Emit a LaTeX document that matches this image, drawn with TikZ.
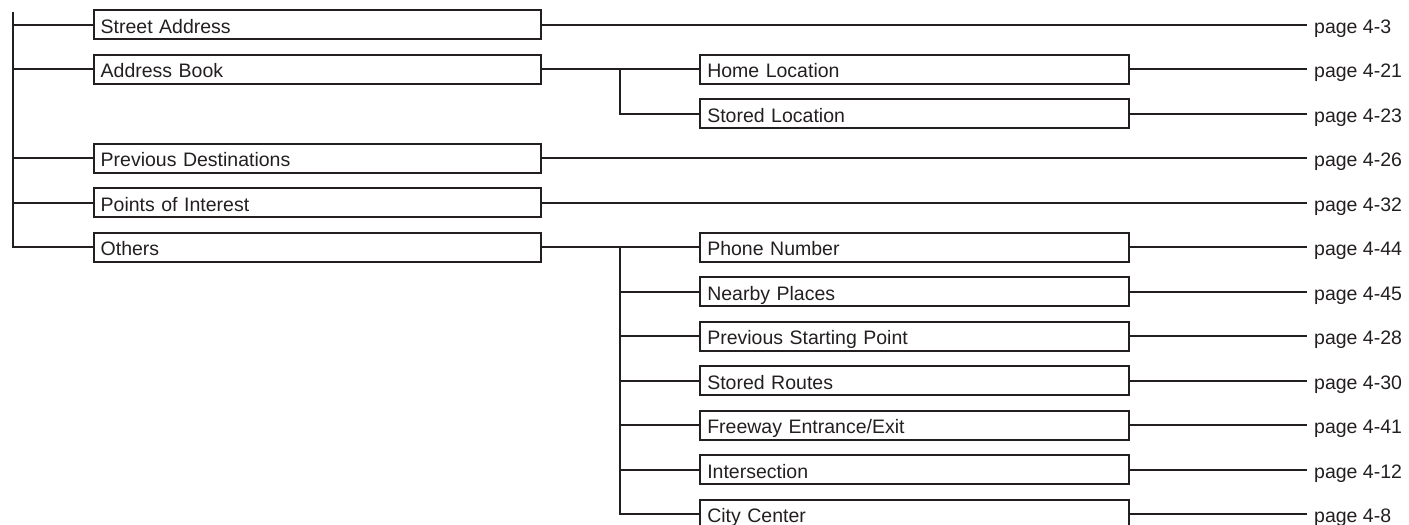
\documentclass[tikz,border=0pt]{standalone}
\usepackage{fontspec}
\setmainfont{Liberation Sans}
\definecolor{ink}{HTML}{231F20}
\begin{document}
\begin{tikzpicture}[x=1pt,y=-1pt,
  conn/.style={draw=ink,line width=2pt},
  box/.style={draw=ink,line width=2pt,anchor=west,minimum height=29pt,
    inner ysep=0pt,inner xsep=7pt,text height=18pt,text depth=0.4pt,
    align=left,font=\fontsize{19.5}{22}\selectfont,text=ink},
  boxa/.style={box,text width=433pt},
  boxb/.style={box,text width=414.7pt},
  pg/.style={anchor=west,inner xsep=7pt,inner ysep=0pt,text height=18pt,
    text depth=0.4pt,font=\fontsize{19.5}{22}\selectfont,text=ink}]
\useasboundingbox (0,0) rectangle (1409,525);

% level 1 boxes
\node[boxa] (sa)  at (92.7,24.5) {Street Address};
\node[boxa] (ab)  at (92.7,69)   {Address Book};
\node[boxa] (pd)  at (92.7,158)  {Previous Destinations};
\node[boxa] (poi) at (92.7,202.5){Points of Interest};
\node[boxa] (oth) at (92.7,247)  {Others};

% level 2 boxes
\node[boxb] (home)  at (699.3,69)    {Home Location};
\node[boxb] (stl)   at (699.3,113.5) {Stored Location};
\node[boxb] (phone) at (699.3,247)   {Phone Number};
\node[boxb] (near)  at (699.3,291.5) {Nearby Places};
\node[boxb] (psp)   at (699.3,336)   {Previous Starting Point};
\node[boxb] (sr)    at (699.3,380.5) {Stored Routes};
\node[boxb] (fwy)   at (699.3,425)   {Freeway Entrance/Exit};
\node[boxb] (inter) at (699.3,469.5) {Intersection};
\node[boxb] (city)  at (699.3,514)   {City Center};

% page labels
\node[pg] (p1)  at (1307,24.5)  {page 4-3};
\node[pg] (p2)  at (1307,69)    {page 4-21};
\node[pg] (p3)  at (1307,113.5) {page 4-23};
\node[pg] (p4)  at (1307,158)   {page 4-26};
\node[pg] (p5)  at (1307,202.5) {page 4-32};
\node[pg] (p6)  at (1307,247)   {page 4-44};
\node[pg] (p7)  at (1307,291.5) {page 4-45};
\node[pg] (p8)  at (1307,336)   {page 4-28};
\node[pg] (p9)  at (1307,380.5) {page 4-30};
\node[pg] (p10) at (1307,425)   {page 4-41};
\node[pg] (p11) at (1307,469.5) {page 4-12};
\node[pg] (p12) at (1307,514)   {page 4-8};

% trunk
\coordinate (top) at (12.7,12);
\draw[conn] (top) |- (oth.west);
\foreach \n in {sa,ab,pd,poi} \draw[conn] (top |- \n.west) -- (\n.west);

% branches
\coordinate (b1) at (620,69);
\coordinate (b2) at (620,247);
\draw[conn] (ab.east) -- (home.west);
\draw[conn] (b1) |- (stl.west);
\draw[conn] (oth.east) -- (phone.west);
\draw[conn] (b2) |- (city.west);
\foreach \n in {near,psp,sr,fwy,inter} \draw[conn] (b2 |- \n.west) -- (\n.west);

% to page labels
\draw[conn] (sa.east) -- (p1.west);
\draw[conn] (home.east) -- (p2.west);
\draw[conn] (stl.east) -- (p3.west);
\draw[conn] (pd.east) -- (p4.west);
\draw[conn] (poi.east) -- (p5.west);
\draw[conn] (phone.east) -- (p6.west);
\draw[conn] (near.east) -- (p7.west);
\draw[conn] (psp.east) -- (p8.west);
\draw[conn] (sr.east) -- (p9.west);
\draw[conn] (fwy.east) -- (p10.west);
\draw[conn] (inter.east) -- (p11.west);
\draw[conn] (city.east) -- (p12.west);
\end{tikzpicture}
\end{document}
